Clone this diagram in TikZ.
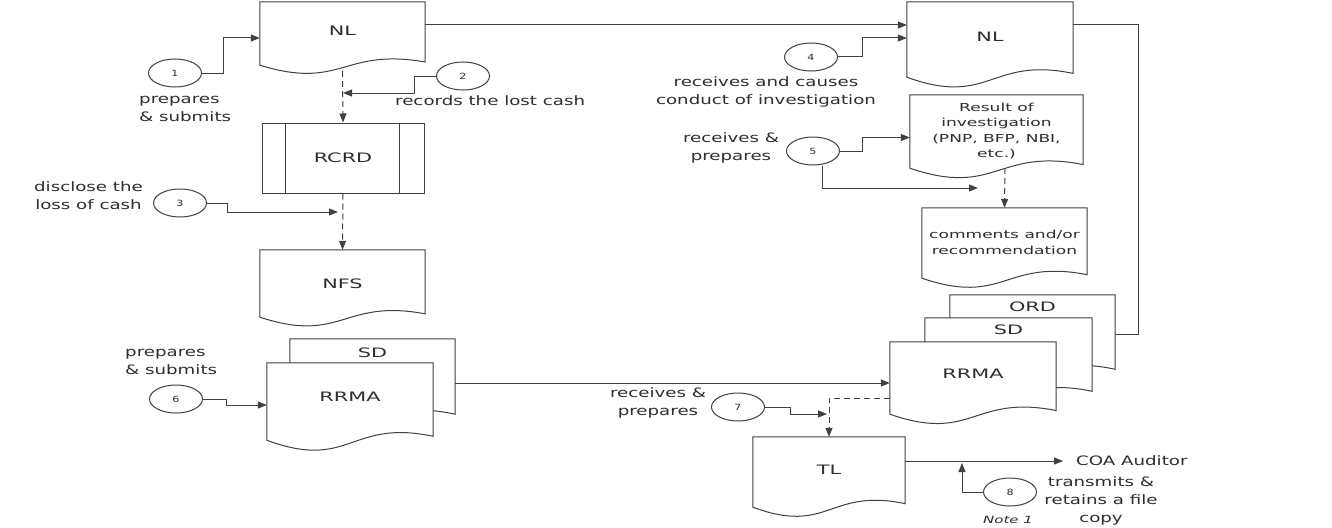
\documentclass[tikz,border=0pt]{standalone}
\usepackage{fontspec}
\setmainfont{DejaVu Sans}
\usepackage{graphicx}
\usetikzlibrary{shapes.geometric,arrows.meta,calc}
\pgfdeclarelayer{background}
\pgfsetlayers{background,main}
\definecolor{lc}{HTML}{404040}
\definecolor{tc}{HTML}{2E2E2E}
\newcommand\hs[2][1.4]{\scalebox{#1}[1]{#2}}
\newcommand\mlc[1]{\begin{tabular}{@{}c@{}}#1\end{tabular}}
\newcommand\mll[1]{\begin{tabular}{@{}l@{}}#1\end{tabular}}
\newcommand\docshape[1]{%
  \path[docline] let \p1=(#1.north west), \p2=(#1.south east) in
  (\x1,\y1) -- (\x2,\y1) -- (\x2,{\y2+0.05*(\y1-\y2)})
  .. controls ({0.5*\x1+0.5*\x2},{\y2+0.28*(\y1-\y2)}) and ({0.5*\x1+0.5*\x2},{\y2-0.4*(\y1-\y2)}) .. (\x1,\y2) -- cycle;}
\begin{document}
\begin{tikzpicture}[x=1pt,y=-1pt,
  ln/.style={draw=lc, line width=1pt},
  ar/.style={ln, -{Triangle[length=9pt,width=7pt]}},
  dsh/.style={ar, dash pattern=on 6pt off 4pt},
  docline/.style={draw=lc, line width=1pt, fill=white},
  box/.style={rectangle, draw=none, inner sep=0pt, text=tc, font=\fontsize{13}{16}\selectfont, text height=9.5pt, text depth=0pt},
  boxlab/.style={inner sep=0pt, text=tc, font=\fontsize{13}{16}\selectfont, text height=9.5pt, text depth=0pt},
  circ/.style={ellipse, draw=lc, line width=1pt, fill=white, minimum width=53pt, minimum height=28pt, inner sep=0pt, text=tc, font=\fontsize{8.5}{10}\selectfont},
  lab/.style={inner sep=0pt, text=tc, font=\fontsize{13}{18}\selectfont},
  small/.style={inner sep=0pt, text=tc, font=\fontsize{11}{15.5}\selectfont}
]
\useasboundingbox (0,0) rectangle (1332,527);

% ---------- boxes (left column)
\node[box, minimum width=165pt, minimum height=63pt, text depth=5pt] (nl1) at (342.5,33.5) {\hs[1.6]{NL}};
\node[box, draw=lc, line width=1pt, fill=white, minimum width=162pt, minimum height=70pt] (rcrd) at (343,158) {\hs[1.6]{RCRD}};
\draw[ln] ([xshift=24pt]rcrd.north west) -- ([xshift=24pt]rcrd.south west);
\draw[ln] ([xshift=-25pt]rcrd.north east) -- ([xshift=-25pt]rcrd.south east);
\node[box, minimum width=165pt, minimum height=67pt] (nfs) at (342.5,283.5) {\hs[1.6]{NFS}};
\node[box, minimum width=165pt, minimum height=79pt,
  label={[boxlab,label distance=-19pt]above:{\hs[1.6]{SD}}}] (sdL) at (372.5,378.5) {};
\node[box, minimum width=166pt, minimum height=77pt, text depth=9pt] (rrmaL) at (350,401.5) {\hs[1.6]{RRMA}};

% ---------- boxes (right column)
\node[box, minimum width=166pt, minimum height=75pt, text depth=5pt] (nl2) at (990,39.5) {\hs[1.6]{NL}};
\node[small, minimum width=173pt, minimum height=73pt] (res) at (996.5,131.5)
  {\hs[1.55]{\mlc{Result of\\investigation\\(PNP, BFP, NBI,\\etc.)}}};
\node[small, minimum width=165pt, minimum height=70pt, font=\fontsize{11}{16}\selectfont] (comm) at (1004.5,243)
  {\hs[1.55]{\mlc{comments and/or\\recommendation}}};
\node[box, minimum width=165pt, minimum height=78pt,
  label={[boxlab,label distance=-17pt]above:{\hs[1.6]{ORD}}}] (ord) at (1032.5,334) {};
\node[box, minimum width=167pt, minimum height=77pt,
  label={[boxlab,label distance=-17pt]above:{\hs[1.6]{SD}}}] (sdR) at (1008.5,356.5) {};
\node[box, minimum width=166pt, minimum height=72pt, text depth=9pt] (rrmaR) at (973,378) {\hs[1.6]{RRMA}};
\node[box, minimum width=152pt, minimum height=70pt, text depth=4pt] (tl) at (829,472) {\hs[1.6]{TL}};

% ---------- document outlines
\begin{pgfonlayer}{background}
\fill[white] (0,0) rectangle (1332,527);
\docshape{nl1}
\docshape{nfs}
\docshape{sdL}
\docshape{rrmaL}
\docshape{nl2}
\docshape{res}
\docshape{comm}
\docshape{ord}
\docshape{sdR}
\docshape{rrmaR}
\docshape{tl}
\end{pgfonlayer}

% ---------- circles
\node[circ] (c1) at (175,73) {\hs[1.3]{1}};
\node[circ] (c2) at (463,76) {\hs[1.3]{2}};
\node[circ] (c3) at (180,203) {\hs[1.3]{3}};
\node[circ] (c4) at (811,57) {\hs[1.3]{4}};
\node[circ] (c5) at (813,151) {\hs[1.3]{5}};
\node[circ] (c6) at (176,399) {\hs[1.3]{6}};
\node[circ] (c7) at (738,407) {\hs[1.3]{7}};
\node[circ] (c8) at (1010,492) {\hs[1.3]{8}};

% ---------- labels
\node[lab, anchor=west] (l1) at (139,109) {\hs{\mll{prepares\\\& submits}}};
\node[lab, anchor=west] (l2) at (395,101) {\hs{records the lost cash}};
\node[lab, anchor=east] (l3) at (143,197) {\hs{\mlc{disclose the\\loss of cash}}};
\node[lab] (l4) at (766,92) {\hs{\mlc{receives and causes\\conduct of investigation}}};
\node[lab] (l5) at (731,148) {\hs{\mlc{receives \&\\prepares}}};
\node[lab, anchor=west] (l6) at (125,362) {\hs{\mll{prepares\\\& submits}}};
\node[lab] (l7) at (658,403) {\hs{\mlc{receives \&\\prepares}}};
\node[lab] (l8) at (1101,501) {\hs{\mlc{transmits \&\\retains a file\\copy}}};
\node[lab, anchor=west, inner xsep=13pt] (coa) at (1063,461) {\hs{COA Auditor}};
\node[inner sep=0pt, text=tc, font=\fontsize{10}{12}\selectfont\itshape] (note) at (1008,520) {\hs[1.5]{Note 1}};

% ---------- junction points on dashed flows
\coordinate (j2) at (343,93);
\coordinate (j3) at (338,212);
\coordinate (j5) at (978,188);
\coordinate (j7) at (827,414);
\coordinate (j8) at (962,463);

% ---------- connectors
\draw[ar] (c1.east) -- ++(21,0) |- ([yshift=-4.5pt]nl1.west);
\draw[dsh] ([yshift=-6pt]nl1.south) -- (rcrd.north);
\draw[ar] (c2.west) -- ++(-22,0) |- (j2);
\draw[dsh] (rcrd.south) -- (nfs.north);
\draw[ar] (c3.east) -- ++(20,0) |- (j3);
\draw[ar] (c6.east) -- ++(23,0) |- ([yshift=-3.5pt]rrmaL.west);
\coordinate (t1) at ([yshift=8.5pt]nl1.east);
\draw[ar] (t1) -- (t1 -| nl2.west);
\draw[ar] (c4.east) -- ++(24,0) |- ([yshift=1.5pt]nl2.west);
\draw[ln] ([yshift=14.5pt]nl2.east) -- ++(65,0) |- (ord.east);
\draw[ar] (c5.east) -- ++(22,0) |- ([yshift=-6pt]res.west);
\draw[ar] ([xshift=9pt]c5.south) |- (j5);
\draw[dsh] ([xshift=8.5pt]res.south) -- (comm.north);
\coordinate (s7) at ([yshift=-4.5pt]sdL.east);
\draw[ar] (s7) -- (s7 -| rrmaR.west);
\draw[dsh] ([yshift=-20pt]rrmaR.west) -| (tl.north);
\draw[ar] (c7.east) -- ++(25,0) |- (j7);
\draw[ar] ([yshift=11pt]tl.east) -- (coa.west);
\draw[ar] (c8.west) -| (j8);
\end{tikzpicture}
\end{document}
